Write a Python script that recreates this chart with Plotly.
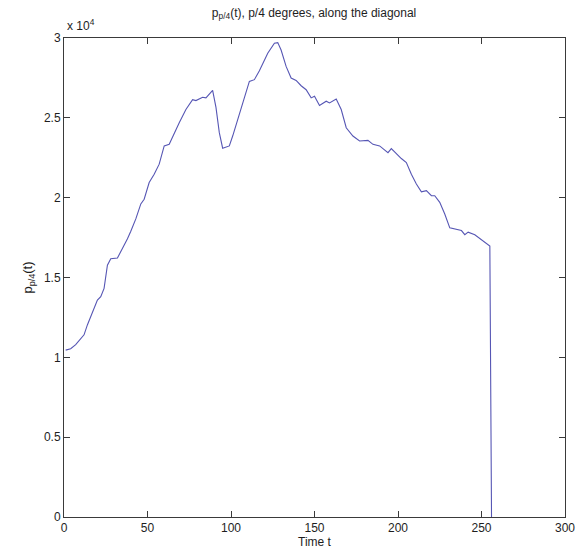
import plotly.graph_objects as go

# Time samples and the p/4 projection value along the diagonal
t = [1, 4, 7, 10, 12, 14, 17, 20, 22, 24,
     26, 28, 32, 34, 38, 40, 43, 46, 48, 51,
     54, 57, 60, 63, 66, 69, 73, 77, 79, 83,
     85, 89, 91, 93, 95, 99, 101, 106, 111, 114,
     117, 122, 126, 128, 130, 133, 136, 139, 142, 145,
     148, 150, 153, 157, 159, 163, 166, 169, 173, 177,
     182, 185, 189, 194, 196, 202, 205, 208, 211, 214,
     217, 220, 222, 225, 228, 231, 235, 238, 240, 242,
     246, 250, 255, 256]
p = [10450, 10540, 10790, 11200, 11410, 12030, 12760, 13590, 13800, 14320,
     15770, 16180, 16220, 16600, 17430, 17900, 18670, 19610, 19900, 20950,
     21470, 22100, 23240, 23340, 24070, 24690, 25520, 26140, 26080, 26290,
     26250, 26720, 25650, 24070, 23100, 23240, 23860, 25600, 27280, 27390,
     27950, 29050, 29670, 29710, 29250, 28220, 27490, 27340, 27010, 26760,
     26250, 26350, 25770, 26040, 25930, 26180, 25520, 24380, 23860, 23550,
     23590, 23340, 23240, 22820, 23070, 22450, 22200, 21470, 20850, 20370,
     20440, 20120, 20120, 19710, 18980, 18110, 18010, 17940, 17680, 17840,
     17680, 17380, 16970, 0]

x_ticks = [0, 50, 100, 150, 200, 250, 300]
y_ticks = [0, 5000, 10000, 15000, 20000, 25000, 30000]
y_tick_text = ["0", "0.5", "1", "1.5", "2", "2.5", "3"]

FONT = "Liberation Sans, Arial, sans-serif"
AXIS_COLOR = "#3a3a3a"
TEXT_COLOR = "#1e1e1e"

fig = go.Figure()
fig.add_trace(go.Scatter(
    x=t, y=p, mode="lines",
    line=dict(color="#5656b4", width=1.1),
    showlegend=False, hoverinfo="skip",
))

axis_common = dict(
    showgrid=False, zeroline=False,
    showline=True, linecolor=AXIS_COLOR, linewidth=1,
    mirror="ticks", ticks="inside", ticklen=6, tickwidth=1,
    tickcolor=AXIS_COLOR,
    tickfont=dict(family=FONT, size=12, color=TEXT_COLOR),
)

fig.update_xaxes(
    range=[0, 300], tickvals=x_ticks, ticktext=[str(v) for v in x_ticks],
    title=dict(text="Time t", font=dict(family=FONT, size=12, color=TEXT_COLOR),
               standoff=2),
    **axis_common,
)
fig.update_yaxes(
    range=[0, 30000], tickvals=y_ticks, ticktext=y_tick_text,
    title=dict(text="p<sub>p/4</sub>(t)",
               font=dict(family=FONT, size=13, color=TEXT_COLOR), standoff=8),
    **axis_common,
)

fig.update_layout(
    width=587, height=558,
    margin=dict(l=64, r=21, t=38, b=38),
    paper_bgcolor="white", plot_bgcolor="white",
    title=dict(
        text="p<sub>p/4</sub>(t), p/4 degrees, along the diagonal",
        font=dict(family=FONT, size=12, color=TEXT_COLOR),
        x=0.535, xanchor="center", y=0.985, yanchor="top",
    ),
    annotations=[dict(
        text="x 10<sup>4</sup>", xref="paper", yref="paper",
        x=0.0, y=1.0, xanchor="left", yanchor="bottom",
        xshift=1, yshift=3, showarrow=False,
        font=dict(family=FONT, size=12, color=TEXT_COLOR),
    )],
)

fig.write_html("out.html")
